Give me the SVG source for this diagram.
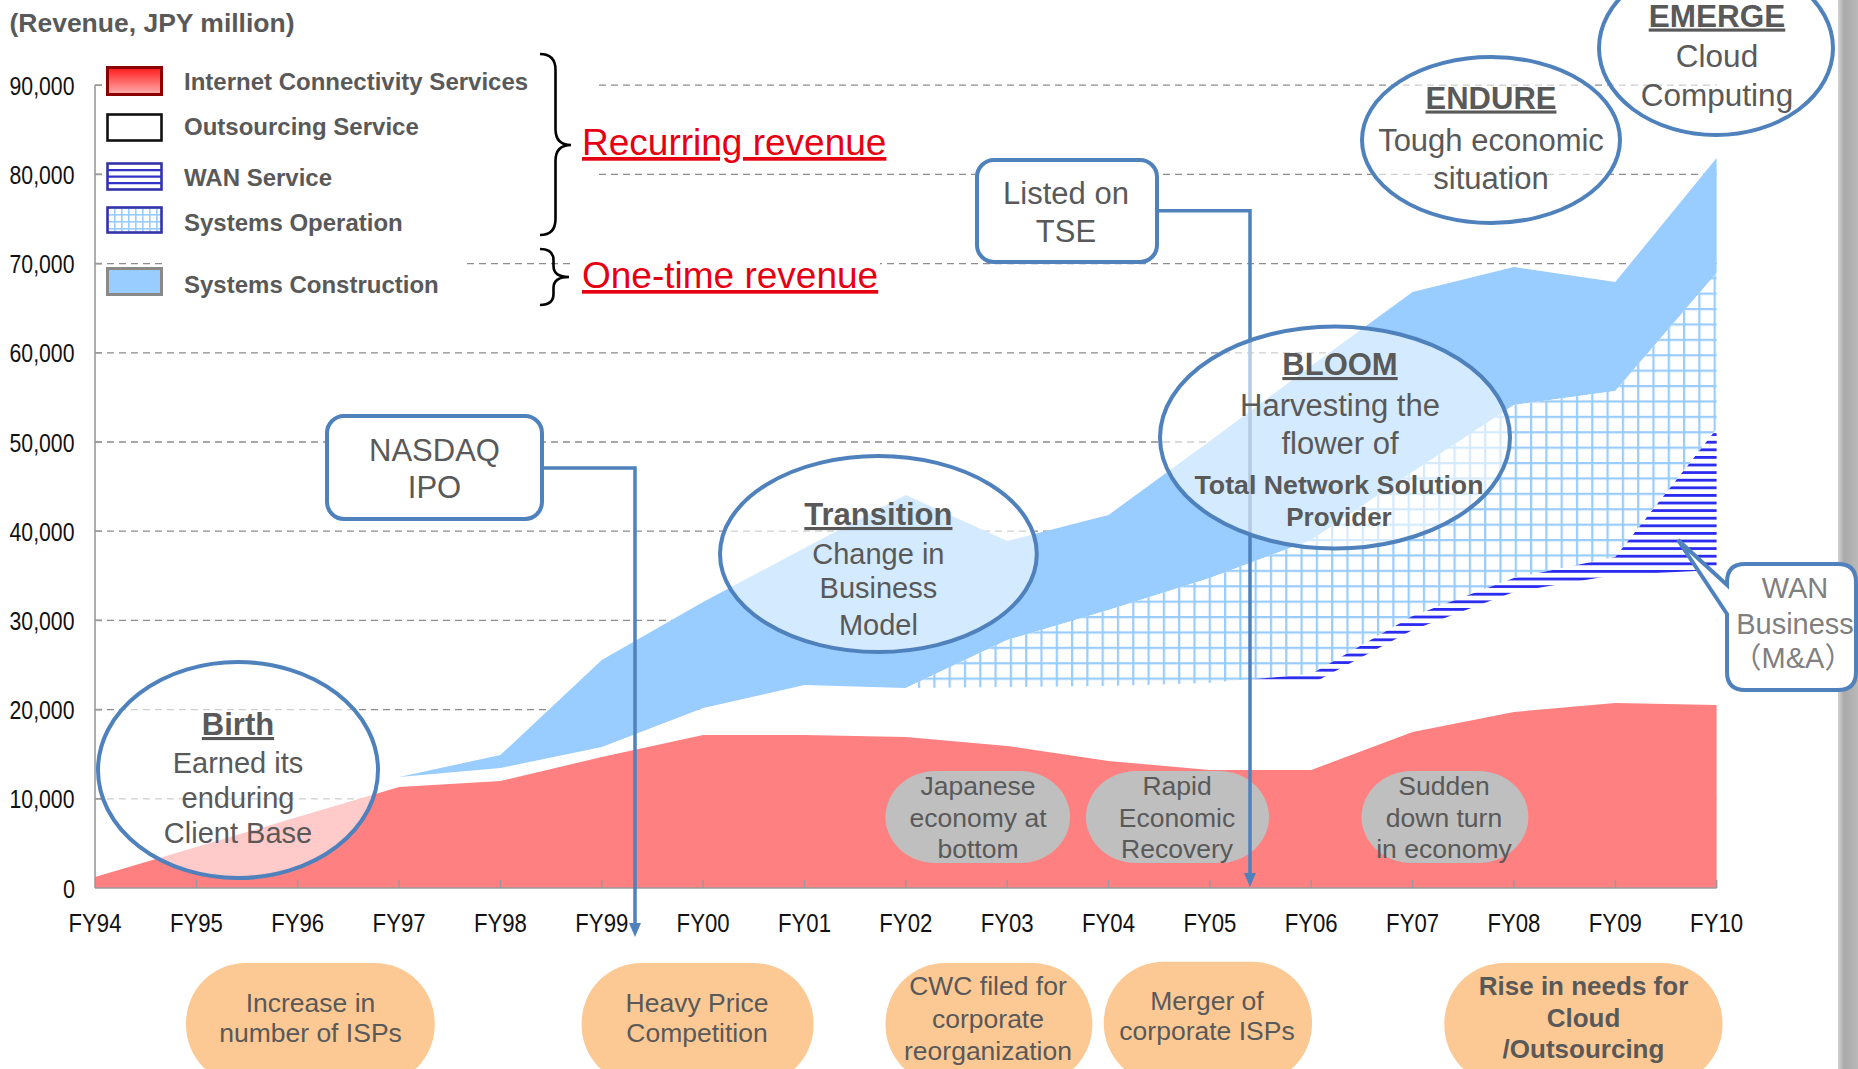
<svg xmlns="http://www.w3.org/2000/svg" width="1858" height="1069" viewBox="0 0 1858 1069">
<defs>
<style>
.grid{stroke:#8c8c8c;stroke-width:1.3;stroke-dasharray:7 5;fill:none}
.tk{stroke:#9a9a9a;stroke-width:1.6;fill:none}
.ax{font-family:'Liberation Sans Narrow','Liberation Sans',Arial,sans-serif;font-size:25px;fill:#111}
.lg{font-family:'Liberation Sans',Arial,sans-serif;font-size:24px;font-weight:bold;fill:#595959}
.rev{font-family:'Liberation Sans',Arial,sans-serif;font-size:37px;fill:#e60012;text-decoration:underline}
.brace{fill:none;stroke:#000;stroke-width:2.6}
.conn{fill:none;stroke:#4f81bd;stroke-width:3.5}
.box{fill:#fff;stroke:#4f81bd;stroke-width:4}
.ell{fill:#fff;fill-opacity:0.58;stroke:#4f81bd;stroke-width:4}
.t{font-family:'Liberation Sans',Arial,sans-serif;fill:#595959;text-anchor:middle}
.w{fill:#7f7f7f}
.b{font-weight:bold}
.u{text-decoration:underline}
.gb{fill:#bfbfbf}
.ob{fill:#fcc995}
</style>
<pattern id="gridPat" patternUnits="userSpaceOnUse" x="0" y="0" width="15.3" height="15.4">
<rect width="15.3" height="15.4" fill="#fff"/>
<rect x="0" y="0" width="2.2" height="15.4" fill="#99ccff"/>
<rect x="0" y="0" width="15.3" height="2.2" fill="#99ccff"/>
</pattern>
<pattern id="gridS" patternUnits="userSpaceOnUse" x="107" y="207" width="7" height="7">
<rect width="7" height="7" fill="#fff"/>
<rect x="0" y="0" width="1.6" height="7" fill="#99ccff"/>
<rect x="0" y="0" width="7" height="1.6" fill="#99ccff"/>
</pattern>
<pattern id="wanPat" patternUnits="userSpaceOnUse" x="0" y="0" width="12" height="7.6">
<rect width="12" height="7.6" fill="#fff"/>
<rect x="0" y="0" width="12" height="2.8" fill="#2a2af0"/>
</pattern>
<linearGradient id="icsGrad" x1="0" y1="0" x2="0" y2="1">
<stop offset="0" stop-color="#ff1a1a"/>
<stop offset="1" stop-color="#ffb0b0"/>
</linearGradient>
<linearGradient id="barGrad" x1="0" y1="0" x2="1" y2="0">
<stop offset="0" stop-color="#d4d4d4"/>
<stop offset="0.3" stop-color="#a9a9a9"/>
<stop offset="1" stop-color="#b9b9b9"/>
</linearGradient>
<marker id="arr" viewBox="0 0 14 12" refX="6" refY="6" markerWidth="14" markerHeight="12" markerUnits="userSpaceOnUse" orient="auto">
<path d="M0,0 L14,6 L0,12 Z" fill="#4f81bd"/>
</marker>
</defs>

<rect width="1858" height="1069" fill="#fff"/>
<rect x="1838" y="0" width="20" height="1069" fill="url(#barGrad)"/>

<g id="gridlines">
<line class="grid" x1="95" y1="798.8" x2="1716.6" y2="798.8"/>
<line class="grid" x1="95" y1="709.6" x2="1716.6" y2="709.6"/>
<line class="grid" x1="95" y1="620.4" x2="1716.6" y2="620.4"/>
<line class="grid" x1="95" y1="531.2" x2="1716.6" y2="531.2"/>
<line class="grid" x1="95" y1="442" x2="1716.6" y2="442"/>
<line class="grid" x1="95" y1="352.8" x2="1716.6" y2="352.8"/>
<line class="grid" x1="95" y1="263.6" x2="1716.6" y2="263.6"/>
<line class="grid" x1="95" y1="174.4" x2="1716.6" y2="174.4"/>
<line class="grid" x1="95" y1="85.2" x2="1716.6" y2="85.2"/>
</g>

<g id="areas">
<path d="M399.1,777 L500.4,768 601.8,747 703.1,708 804.5,685 905.8,688 1007.2,687 1108.5,686 1209.9,684 1311.2,684 1412.6,630 1513.9,592 1615.3,575 1716.6,570 L1716.6,888 L399.1,888 Z" fill="#fff"/>
<path d="M95,888 L95,877 196.4,847 297.7,817 399.1,787 500.4,781 601.8,757 703.1,735 804.5,735 905.8,737 1007.2,746 1108.5,761 1209.9,770 1311.2,770 1412.6,732 1513.9,712 1615.3,703 1716.6,705 L1716.6,888 Z" fill="#ff8080"/>
<path d="M399.1,777 L500.4,755 601.8,660 703.1,602 804.5,548 905.8,495 1007.2,541 1108.5,515 1209.9,441 1311.2,366 1412.6,292 1513.9,267 1615.3,282 1716.6,158 L1716.6,273 1615.3,391 1513.9,405 1412.6,472 1311.2,540 1209.9,578 1108.5,610 1007.2,640 905.8,688 804.5,685 703.1,708 601.8,747 500.4,768 Z" fill="#99ccff"/>
<path d="M905.8,688 L1007.2,640 1108.5,610 1209.9,578 1311.2,540 1412.6,472 1513.9,405 1615.3,391 1716.6,273 L1716.6,429 1615.3,557 1513.9,578 1412.6,616 1311.2,674 1209.9,683 1108.5,686 1007.2,687 Z" fill="url(#gridPat)"/>
<path d="M1209.9,683 L1311.2,674 1412.6,616 1513.9,578 1615.3,557 1716.6,429 L1716.6,570 1615.3,575 1513.9,592 1412.6,630 1311.2,684 1209.9,684 Z" fill="url(#wanPat)"/>
</g>

<g id="axes">
<line class="tk" x1="95" y1="85" x2="95" y2="888"/>
<line class="tk" x1="95" y1="888" x2="1716.6" y2="888" stroke-width="2"/>
<path class="tk" d="M95,798.8 H102 M95,709.6 H102 M95,620.4 H102 M95,531.2 H102 M95,442 H102 M95,352.8 H102 M95,263.6 H102 M95,174.4 H102 M95,85.2 H102"/>
<path class="tk" d="M196.4,880 V888 M297.7,880 V888 M399.1,880 V888 M500.4,880 V888 M601.8,880 V888 M703.1,880 V888 M804.5,880 V888 M905.8,880 V888 M1007.2,880 V888 M1108.5,880 V888 M1209.9,880 V888 M1311.2,880 V888 M1412.6,880 V888 M1513.9,880 V888 M1615.3,880 V888 M1716.6,880 V888"/>
</g>

<g id="legend">
<rect x="103" y="50" width="493" height="195" fill="#fff"/>
<rect x="164" y="245" width="302" height="58" fill="#fff"/>
<rect x="573" y="250" width="307" height="48" fill="#fff"/>
<rect x="107.5" y="67.5" width="54" height="27" fill="url(#icsGrad)" stroke="#8b0000" stroke-width="3"/>
<rect x="107.5" y="114.5" width="54" height="26" fill="#fff" stroke="#111" stroke-width="2.6"/>
<rect x="107.5" y="163.5" width="54" height="26" fill="#fff" stroke="#3333a8" stroke-width="2.6"/>
<path d="M108,170.2 H161 M108,176.7 H161 M108,183.2 H161" stroke="#3333c8" stroke-width="2.2"/>
<rect x="107.5" y="207.5" width="54" height="25" fill="url(#gridS)" stroke="#3333a8" stroke-width="2.6"/>
<rect x="107.5" y="268.5" width="54" height="26" fill="#99ccff" stroke="#8a8a8a" stroke-width="3"/>
<text class="lg" x="184" y="90.4">Internet Connectivity Services</text>
<text class="lg" x="184" y="135.4">Outsourcing Service</text>
<text class="lg" x="184" y="186.3">WAN Service</text>
<text class="lg" x="184" y="231.4">Systems Operation</text>
<text class="lg" x="184" y="293">Systems Construction</text>
<path class="brace" d="M540,54 Q555.5,54 555.5,70 V129 Q555.5,145 571,145 Q555.5,145 555.5,161 V219 Q555.5,235 540,235"/>
<path class="brace" d="M540,249 Q553.5,249 553.5,260 V266 Q553.5,277 569,277 Q553.5,277 553.5,288 V294 Q553.5,305 540,305"/>
<text class="rev" x="582" y="155">Recurring revenue</text>
<text class="rev" x="582" y="288">One-time revenue</text>
</g>

<g id="labels">
<text x="9.5" y="31.5" font-family="'Liberation Sans',Arial,sans-serif" font-size="25" font-weight="bold" fill="#595959" textLength="285" lengthAdjust="spacingAndGlyphs">(Revenue, JPY million)</text>
<text class="ax" x="9.5" y="94.7" textLength="65" lengthAdjust="spacingAndGlyphs">90,000</text>
<text class="ax" x="9.5" y="183.9" textLength="65" lengthAdjust="spacingAndGlyphs">80,000</text>
<text class="ax" x="9.5" y="273.1" textLength="65" lengthAdjust="spacingAndGlyphs">70,000</text>
<text class="ax" x="9.5" y="362.3" textLength="65" lengthAdjust="spacingAndGlyphs">60,000</text>
<text class="ax" x="9.5" y="451.5" textLength="65" lengthAdjust="spacingAndGlyphs">50,000</text>
<text class="ax" x="9.5" y="540.7" textLength="65" lengthAdjust="spacingAndGlyphs">40,000</text>
<text class="ax" x="9.5" y="629.9" textLength="65" lengthAdjust="spacingAndGlyphs">30,000</text>
<text class="ax" x="9.5" y="719.1" textLength="65" lengthAdjust="spacingAndGlyphs">20,000</text>
<text class="ax" x="9.5" y="808.3" textLength="65" lengthAdjust="spacingAndGlyphs">10,000</text>
<text class="ax" x="63" y="897.5" textLength="12" lengthAdjust="spacingAndGlyphs">0</text>
<text class="ax" x="68.5" y="931.7" textLength="53" lengthAdjust="spacingAndGlyphs">FY94</text>
<text class="ax" x="169.9" y="931.7" textLength="53" lengthAdjust="spacingAndGlyphs">FY95</text>
<text class="ax" x="271.2" y="931.7" textLength="53" lengthAdjust="spacingAndGlyphs">FY96</text>
<text class="ax" x="372.6" y="931.7" textLength="53" lengthAdjust="spacingAndGlyphs">FY97</text>
<text class="ax" x="473.9" y="931.7" textLength="53" lengthAdjust="spacingAndGlyphs">FY98</text>
<text class="ax" x="575.3" y="931.7" textLength="53" lengthAdjust="spacingAndGlyphs">FY99</text>
<text class="ax" x="676.6" y="931.7" textLength="53" lengthAdjust="spacingAndGlyphs">FY00</text>
<text class="ax" x="778" y="931.7" textLength="53" lengthAdjust="spacingAndGlyphs">FY01</text>
<text class="ax" x="879.3" y="931.7" textLength="53" lengthAdjust="spacingAndGlyphs">FY02</text>
<text class="ax" x="980.7" y="931.7" textLength="53" lengthAdjust="spacingAndGlyphs">FY03</text>
<text class="ax" x="1082" y="931.7" textLength="53" lengthAdjust="spacingAndGlyphs">FY04</text>
<text class="ax" x="1183.4" y="931.7" textLength="53" lengthAdjust="spacingAndGlyphs">FY05</text>
<text class="ax" x="1284.7" y="931.7" textLength="53" lengthAdjust="spacingAndGlyphs">FY06</text>
<text class="ax" x="1386.1" y="931.7" textLength="53" lengthAdjust="spacingAndGlyphs">FY07</text>
<text class="ax" x="1487.4" y="931.7" textLength="53" lengthAdjust="spacingAndGlyphs">FY08</text>
<text class="ax" x="1588.8" y="931.7" textLength="53" lengthAdjust="spacingAndGlyphs">FY09</text>
<text class="ax" x="1690.1" y="931.7" textLength="53" lengthAdjust="spacingAndGlyphs">FY10</text>
</g>

<g id="economy-bubbles">
<g id="japanese">
<rect class="gb" x="885.5" y="771" width="184.5" height="92" rx="50" ry="46"/>
<text class="t" font-size="26.5" x="978" y="795">Japanese</text>
<text class="t" font-size="26.5" x="978" y="826.7">economy at</text>
<text class="t" font-size="26.5" x="978" y="858.3">bottom</text>
</g>
<g id="rapid">
<rect class="gb" x="1086" y="771" width="183" height="92" rx="50" ry="46"/>
<text class="t" font-size="26.5" x="1177" y="795">Rapid</text>
<text class="t" font-size="26.5" x="1177" y="826.7">Economic</text>
<text class="t" font-size="26.5" x="1177" y="858.3">Recovery</text>
</g>
<g id="sudden">
<rect class="gb" x="1361.6" y="771" width="166.8" height="92" rx="50" ry="46"/>
<text class="t" font-size="26.5" x="1444" y="795">Sudden</text>
<text class="t" font-size="26.5" x="1444" y="826.7">down turn</text>
<text class="t" font-size="26.5" x="1444" y="858.3">in economy</text>
</g>
</g>

<g id="event-bubbles">
<g id="isps">
<rect class="ob" x="186" y="963" width="248.7" height="122" rx="60" ry="60"/>
<text class="t" font-size="26.5" x="310.5" y="1011.7">Increase in</text>
<text class="t" font-size="26.5" x="310.5" y="1041.7">number of ISPs</text>
</g>
<g id="price">
<rect class="ob" x="581.6" y="963" width="232" height="122" rx="60" ry="60"/>
<text class="t" font-size="26.5" x="697" y="1011.7">Heavy Price</text>
<text class="t" font-size="26.5" x="697" y="1041.7">Competition</text>
</g>
<g id="cwc">
<rect class="ob" x="885.5" y="963" width="206.8" height="122" rx="60" ry="60"/>
<text class="t" font-size="26.5" x="988" y="995">CWC filed for</text>
<text class="t" font-size="26.5" x="988" y="1028.3">corporate</text>
<text class="t" font-size="26.5" x="988" y="1060">reorganization</text>
</g>
<g id="merger">
<rect class="ob" x="1103.8" y="961.7" width="208.2" height="122" rx="60" ry="60"/>
<text class="t" font-size="26.5" x="1207" y="1010">Merger of</text>
<text class="t" font-size="26.5" x="1207" y="1040">corporate ISPs</text>
</g>
<g id="cloud">
<rect class="ob" x="1444.3" y="963" width="278.2" height="122" rx="60" ry="60"/>
<text class="t b" font-size="26" x="1583.5" y="995">Rise in needs for</text>
<text class="t b" font-size="26" x="1583.5" y="1026.7">Cloud</text>
<text class="t b" font-size="26" x="1583.5" y="1058.3">/Outsourcing</text>
</g>
</g>

<g id="connectors">
<path class="conn" d="M542.7,468 H635 V929" marker-end="url(#arr)"/>
<path class="conn" d="M1157,210.7 H1250 V879" marker-end="url(#arr)"/>
</g>

<g id="nasdaq">
<rect class="box" x="327" y="416" width="215" height="103" rx="17"/>
<text class="t" font-size="31" x="434.5" y="461">NASDAQ</text>
<text class="t" font-size="31" x="434.5" y="498">IPO</text>
</g>
<g id="tse">
<rect class="box" x="977" y="160" width="180" height="102" rx="17"/>
<text class="t" font-size="31" x="1066" y="204">Listed on</text>
<text class="t" font-size="31" x="1066" y="242">TSE</text>
</g>
<g id="wan-callout">
<path class="box" d="M1745,564 H1838 Q1856,564 1856,582 V672 Q1856,690 1838,690 H1745 Q1727,690 1727,672 V614 L1678,540 L1727,585 V582 Q1727,564 1745,564 Z"/>
<text class="t w" font-size="29" x="1795" y="598">WAN</text>
<text class="t w" font-size="29" x="1795" y="634">Business</text>
<text class="t w" font-size="29" x="1793" y="668" style="font-family:'Liberation Sans','Noto Sans CJK JP',sans-serif">（M&amp;A）</text>
</g>

<g id="birth">
<ellipse class="ell" cx="238" cy="770" rx="140" ry="108"/>
<text class="t b u" font-size="31" x="238" y="735">Birth</text>
<text class="t" font-size="29" x="238" y="773">Earned its</text>
<text class="t" font-size="29" x="238" y="808">enduring</text>
<text class="t" font-size="29" x="238" y="843">Client Base</text>
</g>
<g id="transition">
<ellipse class="ell" cx="878.4" cy="554" rx="158.4" ry="98"/>
<text class="t b u" font-size="31" x="878.4" y="525">Transition</text>
<text class="t" font-size="29" x="878.4" y="564">Change in</text>
<text class="t" font-size="29" x="878.4" y="598">Business</text>
<text class="t" font-size="29" x="878.4" y="635">Model</text>
</g>
<g id="bloom">
<ellipse class="ell" cx="1335" cy="437.5" rx="175" ry="111"/>
<text class="t b u" font-size="31" x="1340" y="375">BLOOM</text>
<text class="t" font-size="31" x="1340" y="416">Harvesting the</text>
<text class="t" font-size="31" x="1340" y="454">flower of</text>
<text class="t b" font-size="26" x="1339" y="494" textLength="289" lengthAdjust="spacingAndGlyphs">Total Network Solution</text>
<text class="t b" font-size="26" x="1339" y="526">Provider</text>
</g>
<g id="endure">
<ellipse class="ell" cx="1491" cy="140" rx="129" ry="83"/>
<text class="t b u" font-size="31" x="1491" y="108.5">ENDURE</text>
<text class="t" font-size="31" x="1491" y="150.5">Tough economic</text>
<text class="t" font-size="31" x="1491" y="189">situation</text>
</g>
<g id="emerge">
<ellipse class="ell" cx="1716" cy="48" rx="117" ry="87"/>
<text class="t b u" font-size="31.5" x="1717" y="26.5">EMERGE</text>
<text class="t" font-size="31.5" x="1717" y="67">Cloud</text>
<text class="t" font-size="31.5" x="1717" y="105.5">Computing</text>
</g>
</svg>
